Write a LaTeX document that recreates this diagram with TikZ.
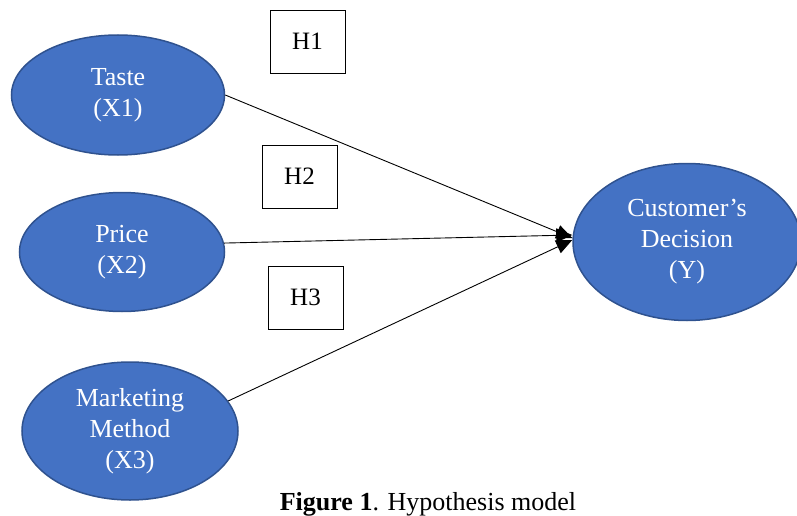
\documentclass[tikz,border=0pt]{standalone}
\usepackage{fontspec}
\setmainfont{Liberation Serif}
\usepackage{tikz}
\usetikzlibrary{arrows.meta,shapes.geometric}
\definecolor{hypBlue}{RGB}{68,114,196}
\definecolor{hypBlueDark}{RGB}{47,82,143}

\tikzset{
  varnode/.style={ellipse, draw=hypBlueDark, line width=1.5pt, fill=hypBlue,
    text=white, inner sep=0pt, align=center,
    font=\fontsize{26}{31}\selectfont},
  hypbox/.style={draw=black, line width=0.8pt, minimum width=75pt, minimum height=63pt,
    inner sep=0pt, font=\fontsize{25}{28}\selectfont},
  hyparrow/.style={line width=0.9pt, -{Triangle[length=16pt,width=14pt]}}
}

\begin{document}
\begin{tikzpicture}[x=1pt,y=-1pt]
\useasboundingbox (0,0) rectangle (797,516);

% variables
\node[varnode, minimum width=213pt, minimum height=120pt] (taste) at (118,95) {Taste\\(X1)};
\node[varnode, minimum width=205pt, minimum height=119pt] (price) at (122,252) {Price\\(X2)};
\node[varnode, minimum width=216pt, minimum height=138pt] (mkt) at (130,431) {Marketing\\Method\\(X3)};
\node[varnode, minimum width=228pt, minimum height=157pt] (cust) at (687,242) {Customer’s\\Decision\\(Y)};

% hypotheses
\node[hypbox] (h1) at (307.5,41.5) {H1};
\node[hypbox] (h2) at (299.5,176.5) {H2};
\node[hypbox] (h3) at (305.5,297.5) {H3};

\draw[hyparrow] (taste.east) -- ([yshift=4pt]cust.west);
\draw[hyparrow] (price.5) -- ([yshift=7pt]cust.west);
\draw[hyparrow] (mkt.17) -- ([yshift=2pt]cust.west);

\node[font=\fontsize{26}{30}\selectfont, anchor=base] (cap) at (428,510) {\textbf{Figure 1}. Hypothesis model};
\end{tikzpicture}
\end{document}
